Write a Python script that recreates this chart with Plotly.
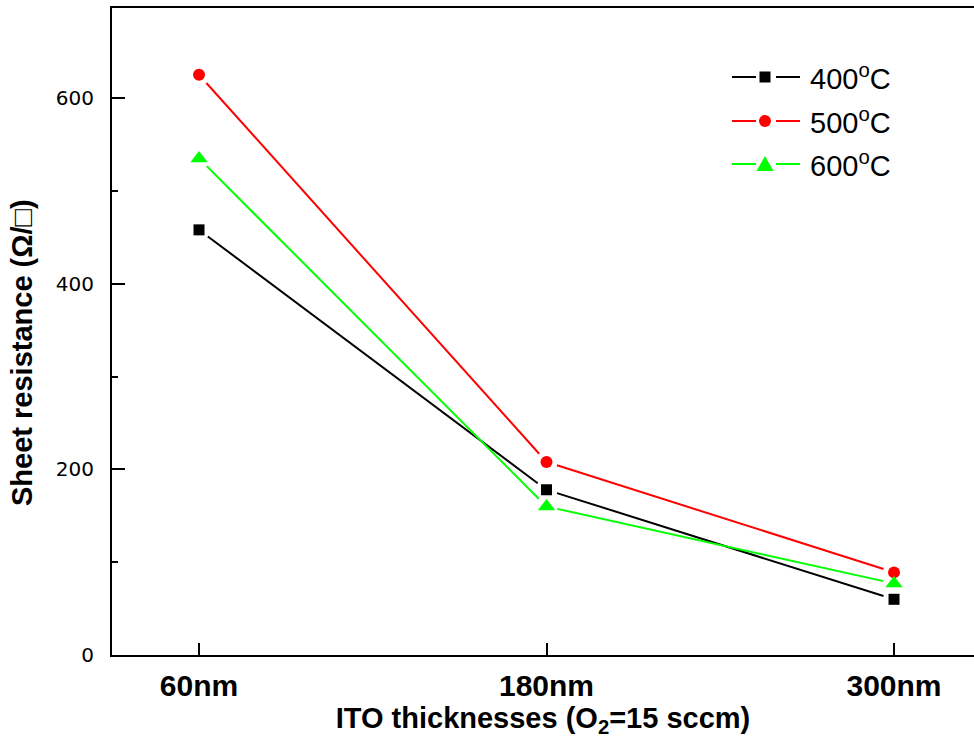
import math
import plotly.graph_objects as go

# ITO film thickness categories and measured sheet resistance per anneal temperature
thickness = ["60nm", "180nm", "300nm"]
temps = ["400", "500", "600"]
rs_400 = [458, 178, 60]
rs_500 = [625, 208, 89]
rs_600 = [535, 160, 77]

y_ticks = [0, 200, 400, 600]

colors = {"400": "#000000", "500": "#ff0000", "600": "#00ff00"}
symbols = {"400": "square", "500": "circle", "600": "triangle-up"}
sizes = {"400": 11, "500": 12, "600": 15}

W, H = 974, 756
M_L, M_R, M_T, M_B = 112, 0, 8, 101
PLOT_W = W - M_L - M_R
PLOT_H = H - M_T - M_B
X_RANGE = [-0.2504, 2.2302]
Y_RANGE = [0, 697]
PX_X = PLOT_W / (X_RANGE[1] - X_RANGE[0])
PX_Y = PLOT_H / (Y_RANGE[1] - Y_RANGE[0])
GAP = 11  # px between a symbol centre and the start of its connecting line

xpos = list(range(len(thickness)))


def gapped_segments(xs, ys, gap):
    """Connecting segments shortened at both ends so they stop short of the symbols."""
    gx, gy = [], []
    for i in range(len(xs) - 1):
        dx, dy = xs[i + 1] - xs[i], ys[i + 1] - ys[i]
        d = math.hypot(dx * PX_X, dy * PX_Y)
        f = gap / d
        gx += [xs[i] + dx * f, xs[i + 1] - dx * f, None]
        gy += [ys[i] + dy * f, ys[i + 1] - dy * f, None]
    return gx, gy


series = {"400": rs_400, "500": rs_500, "600": rs_600}

fig = go.Figure()
for t in temps:
    lx, ly = gapped_segments(xpos, series[t], GAP)
    fig.add_trace(go.Scatter(x=lx, y=ly, mode="lines",
                             line=dict(color=colors[t], width=2),
                             showlegend=False, hoverinfo="skip"))
for t in temps:
    fig.add_trace(go.Scatter(x=xpos, y=series[t], mode="markers",
                             marker=dict(symbol=symbols[t], size=sizes[t],
                                         color=colors[t], line=dict(width=0)),
                             name=f"{t}°C", showlegend=False))


def px2paper(px, py):
    return (px - M_L) / PLOT_W, (H - M_B - py) / PLOT_H


# Hand-drawn legend in the upper right (long line keys with a break around the symbol)
shapes = []
annotations = []
row_y = [77, 121, 164]
for t, ry in zip(temps, row_y):
    c = colors[t]
    for xa, xb in [(732, 756), (776, 800)]:
        x0, y0 = px2paper(xa, ry)
        x1, _ = px2paper(xb, ry)
        shapes.append(dict(type="line", xref="paper", yref="paper",
                           x0=x0, y0=y0, x1=x1, y1=y0,
                           line=dict(color=c, width=2)))
    cx, cy = 765, ry
    if symbols[t] == "square":
        a, b = px2paper(cx - 5.5, cy - 5.5)
        d, e = px2paper(cx + 5.5, cy + 5.5)
        shapes.append(dict(type="rect", xref="paper", yref="paper",
                           x0=a, y0=b, x1=d, y1=e, fillcolor=c, line=dict(width=0)))
    elif symbols[t] == "circle":
        a, b = px2paper(cx - 6, cy - 6)
        d, e = px2paper(cx + 6, cy + 6)
        shapes.append(dict(type="circle", xref="paper", yref="paper",
                           x0=a, y0=b, x1=d, y1=e, fillcolor=c, line=dict(width=0)))
    else:
        p1 = px2paper(cx, cy - 8)
        p2 = px2paper(cx - 8.5, cy + 7)
        p3 = px2paper(cx + 8.5, cy + 7)
        path = f"M {p1[0]},{p1[1]} L {p2[0]},{p2[1]} L {p3[0]},{p3[1]} Z"
        shapes.append(dict(type="path", xref="paper", yref="paper", path=path,
                           fillcolor=c, line=dict(width=0)))
    tx, ty = px2paper(808, ry)
    annotations.append(dict(xref="paper", yref="paper", x=tx, y=ty,
                            xanchor="left", yanchor="middle", showarrow=False,
                            text=f"{t}<sup>o</sup>C",
                            font=dict(family="Arial, Liberation Sans", size=29,
                                      color="#000000")))

# Vertical axis title, set a little below the plot's mid-height
ytx, yty = px2paper(22, 353)
annotations.append(dict(xref="paper", yref="paper", x=ytx, y=yty,
                        xanchor="center", yanchor="middle", showarrow=False,
                        textangle=-90, text="Sheet resistance (Ω/□)",
                        font=dict(family="Arial, Liberation Sans", size=29,
                                  color="#000000", weight="bold")))

fig.update_layout(
    width=W, height=H,
    margin=dict(l=M_L, r=M_R, t=M_T, b=M_B, autoexpand=False),
    paper_bgcolor="#ffffff", plot_bgcolor="#ffffff",
    showlegend=False,
    shapes=shapes,
    annotations=annotations,
    xaxis=dict(
        range=X_RANGE, tickvals=xpos, ticktext=thickness,
        showgrid=False, zeroline=False,
        showline=True, linecolor="#000000", linewidth=2, mirror=True,
        ticks="inside", ticklen=12, tickwidth=2, tickcolor="#000000",
        ticklabelstandoff=3,
        tickfont=dict(family="Arial, Liberation Sans", size=30, color="#000000", weight="bold"),
        title=dict(text="ITO thicknesses (O<sub>2</sub>=15 sccm)", standoff=0,
                   font=dict(family="Arial, Liberation Sans", size=29, color="#000000",
                             weight="bold")),
    ),
    yaxis=dict(
        range=Y_RANGE, tickvals=y_ticks,
        showgrid=False, zeroline=False,
        showline=True, linecolor="#000000", linewidth=2, mirror=False,
        ticks="inside", ticklen=13, tickwidth=2, tickcolor="#000000",
        minor=dict(dtick=100, ticks="inside", ticklen=6, tickwidth=2, tickcolor="#000000"),
        ticklabelstandoff=12,
        tickfont=dict(family="DejaVu Sans", size=20, color="#000000"),
    ),
)

fig.write_html("out.html")
